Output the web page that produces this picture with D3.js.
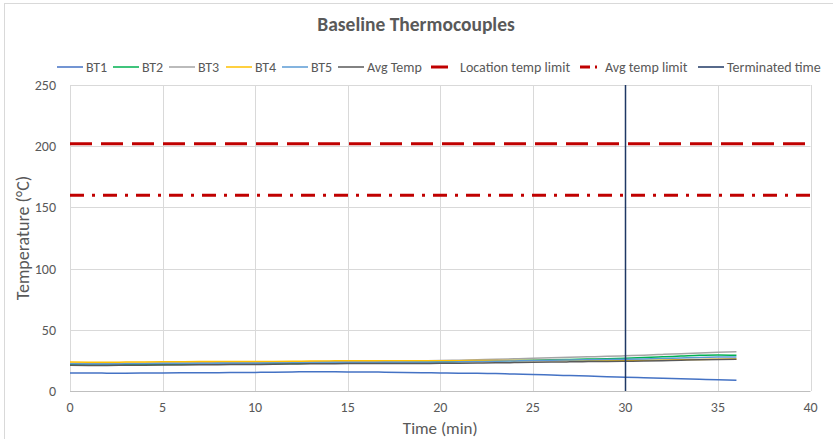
<html>
<head>
    <script src="https://cdn.jsdelivr.net/npm/d3@7"></script>
    <style>
        body { margin: 0; background: white; font-family: Carlito, Lato, "Open Sans", sans-serif; }
        svg text { fill: #595959; }
    </style>
</head>
<body>
<svg id="chart"></svg>
<script>
    // time in minutes
    let minutes = d3.range(0, 37);
    let bt1 = [14.8,14.7,14.6,14.6,14.7,14.8,14.9,15.0,15.0,15.1,15.2,15.3,15.5,15.8,15.7,15.6,15.6,15.4,15.2,15.0,14.8,14.6,14.5,14.2,13.8,13.5,13.0,12.6,12.2,11.7,11.2,10.8,10.4,10.0,9.6,9.2,8.7];
    let bt2 = [21.5,21.4,21.4,21.5,21.6,21.7,21.8,21.9,22.0,22.1,22.2,22.3,22.5,22.7,22.8,23.0,23.1,23.2,23.4,23.6,23.8,24.0,24.3,24.6,24.9,25.2,25.5,25.8,26.1,26.4,26.8,27.3,27.9,28.5,29.2,29.5,29.3];
    let bt3 = [22.6,22.5,22.5,22.6,22.7,22.8,22.9,23.0,23.1,23.2,23.3,23.4,23.6,23.8,24.0,24.2,24.3,24.4,24.5,24.7,24.9,25.2,25.5,25.9,26.3,26.7,27.1,27.5,27.9,28.3,28.8,29.3,29.9,30.5,31.1,31.6,32.0];
    let bt4 = [23.6,23.5,23.5,23.6,23.7,23.8,23.9,24.0,24.0,24.1,24.1,24.2,24.3,24.5,24.6,24.7,24.7,24.7,24.7,24.7,24.8,24.8,24.9,24.9,25.0,25.0,25.0,25.0,25.0,25.1,25.1,25.2,25.3,25.5,25.8,26.0,26.2];
    let bt5 = [22.2,22.1,22.1,22.2,22.3,22.4,22.5,22.5,22.6,22.7,22.7,22.8,23.0,23.1,23.2,23.3,23.3,23.4,23.4,23.5,23.6,23.8,24.0,24.3,24.6,24.9,25.1,25.3,25.5,25.7,25.9,26.2,26.6,27.0,27.4,27.7,27.8];
    let avgTemp = [21.0,20.9,20.9,21.0,21.1,21.2,21.3,21.4,21.5,21.6,21.7,21.8,22.0,22.2,22.3,22.4,22.4,22.4,22.4,22.5,22.6,22.7,22.8,23.0,23.2,23.4,23.6,23.8,24.0,24.1,24.3,24.5,24.8,25.2,25.6,25.8,25.9];
    let locationLimit = 202;
    let avgLimit = 160;
    let terminatedTime = 30;
    let xTicks = [0, 5, 10, 15, 20, 25, 30, 35, 40];
    let yTicks = [0, 50, 100, 150, 200, 250];

    let width = 833, height = 439;
    let margin = {left: 70, right: 22, top: 85, bottom: 48};

    let svg = d3.select("#chart").attr("width", width).attr("height", height);

    // chart border
    svg.append("rect").attr("x", 4.5).attr("y", 3.5).attr("width", 900).attr("height", 500)
        .attr("fill", "white").attr("stroke", "#d9d9d9");

    let x = d3.scaleLinear().domain([0, 40]).range([margin.left, width - margin.right - 0.5]);
    let y = d3.scaleLinear().domain([0, 250]).range([height - margin.bottom, margin.top]);

    // gridlines
    svg.append("g").selectAll("line").data(yTicks.slice(1)).enter().append("line")
        .attr("x1", x(0)).attr("x2", x(40))
        .attr("y1", d => Math.round(y(d)) + 0.5).attr("y2", d => Math.round(y(d)) + 0.5)
        .attr("stroke", "#d9d9d9");
    svg.append("g").selectAll("line").data(xTicks).enter().append("line")
        .attr("x1", d => Math.round(x(d)) + 0.5).attr("x2", d => Math.round(x(d)) + 0.5)
        .attr("y1", y(0)).attr("y2", y(250))
        .attr("stroke", "#d9d9d9");
    // bottom axis line
    svg.append("line").attr("x1", x(0)).attr("x2", x(40))
        .attr("y1", Math.round(y(0)) + 0.5).attr("y2", Math.round(y(0)) + 0.5)
        .attr("stroke", "#bfbfbf");

    // tick labels
    svg.append("g").selectAll("text").data(yTicks).enter().append("text")
        .attr("x", x(0) - 14).attr("y", d => y(d) + 5)
        .attr("text-anchor", "end").style("font-size", "14px").text(d => d);
    svg.append("g").selectAll("text").data(xTicks).enter().append("text")
        .attr("x", d => x(d)).attr("y", y(0) + 21)
        .attr("text-anchor", "middle").style("font-size", "14px").text(d => d);

    // axis titles
    svg.append("text").attr("x", (x(0) + x(40)) / 2).attr("y", 434)
        .attr("text-anchor", "middle").style("font-size", "17px").text("Time (min)");
    svg.append("text").attr("transform", "translate(29," + ((y(0) + y(250)) / 2) + ") rotate(-90)")
        .attr("text-anchor", "middle").style("font-size", "18px").text("Temperature (\u00B0C)");

    // title
    svg.append("text").attr("x", 416).attr("y", 31).attr("text-anchor", "middle")
        .style("font-size", "19.5px").style("font-weight", "bold").text("Baseline Thermocouples");

    // limit lines
    svg.append("line").attr("x1", x(0)).attr("x2", x(40))
        .attr("y1", y(locationLimit)).attr("y2", y(locationLimit))
        .attr("stroke", "#c00000").attr("stroke-width", 3).attr("stroke-dasharray", "22,9");
    svg.append("line").attr("x1", x(0)).attr("x2", x(40))
        .attr("y1", y(avgLimit)).attr("y2", y(avgLimit))
        .attr("stroke", "#c00000").attr("stroke-width", 3).attr("stroke-dasharray", "14,8,3,8");

    // data series
    let series = [
        {name: "BT1", values: bt1, color: "#4472c4"},
        {name: "BT2", values: bt2, color: "#00b050"},
        {name: "BT3", values: bt3, color: "#a5a5a5"},
        {name: "BT4", values: bt4, color: "#ffc000"},
        {name: "BT5", values: bt5, color: "#5b9bd5"},
        {name: "Avg Temp", values: avgTemp, color: "#595959"}
    ];
    let line = d3.line().x((d, i) => x(minutes[i])).y(d => y(d)).curve(d3.curveMonotoneX);
    svg.append("g").selectAll("path").data(series).enter().append("path")
        .attr("d", d => line(d.values))
        .attr("fill", "none").attr("stroke", d => d.color).attr("stroke-width", 1.5);

    // terminated time
    svg.append("line").attr("x1", Math.round(x(terminatedTime)) + 0.5).attr("x2", Math.round(x(terminatedTime)) + 0.5)
        .attr("y1", y(0)).attr("y2", y(250))
        .attr("stroke", "#1f3864").attr("stroke-width", 1.5);

    // legend
    let legend = [
        {name: "BT1", color: "#4472c4", x: 57, len: 26, w: 1.5, dash: null},
        {name: "BT2", color: "#00b050", x: 113, len: 26, w: 1.5, dash: null},
        {name: "BT3", color: "#a5a5a5", x: 169, len: 26, w: 1.5, dash: null},
        {name: "BT4", color: "#ffc000", x: 226, len: 26, w: 1.5, dash: null},
        {name: "BT5", color: "#5b9bd5", x: 282, len: 26, w: 1.5, dash: null},
        {name: "Avg Temp", color: "#595959", x: 338, len: 26, w: 1.5, dash: null},
        {name: "Location temp limit", color: "#c00000", x: 431, len: 17, w: 3, dash: null, gap: 12},
        {name: "Avg temp limit", color: "#c00000", x: 580, len: 17, w: 3, dash: "10,5,2,5", gap: 8},
        {name: "Terminated time", color: "#1f3864", x: 698, len: 26, w: 1.5, dash: null}
    ];
    let lg = svg.append("g").selectAll("g").data(legend).enter().append("g");
    lg.append("line").attr("x1", d => d.x).attr("x2", d => d.x + d.len)
        .attr("y1", 67).attr("y2", 67)
        .attr("stroke", d => d.color).attr("stroke-width", d => d.w)
        .attr("stroke-dasharray", d => d.dash);
    lg.append("text").attr("x", d => d.x + d.len + (d.gap || 3)).attr("y", 72)
        .style("font-size", "14px").text(d => d.name);
</script>
</body>
</html>
